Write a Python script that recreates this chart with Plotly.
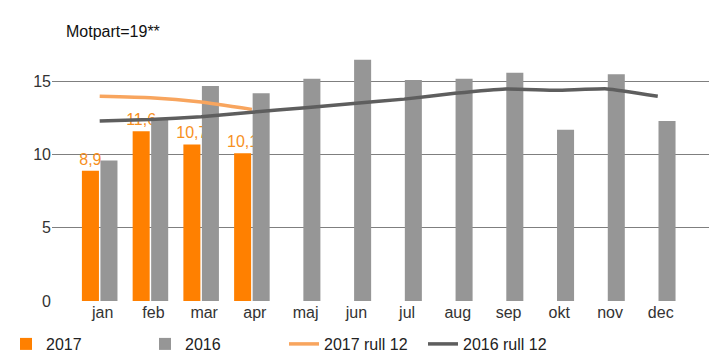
import plotly.graph_objects as go

months = ["jan", "feb", "mar", "apr", "maj", "jun", "jul", "aug", "sep", "okt", "nov", "dec"]
v2017 = [8.9, 11.6, 10.7, 10.1]
v2016 = [9.6, 12.4, 14.7, 14.2, 15.2, 16.5, 15.1, 15.2, 15.6, 11.7, 15.5, 12.3]
r2017 = [14.0, 13.9, 13.6, 13.1]
r2016 = [12.3, 12.4, 12.6, 12.9, 13.2, 13.5, 13.8, 14.2, 14.5, 14.4, 14.5, 14.0]
label2017 = ["8,9", "11,6", "10,7", "10,1"]
yticks = [0, 5, 10, 15]

FONT = "Liberation Sans, Arial, sans-serif"

fig = go.Figure()
fig.add_trace(go.Bar(
    x=months[:len(v2017)], y=v2017, name="2017",
    marker=dict(color="#FF8000", line=dict(width=0)),
    text=label2017, textposition="outside", cliponaxis=False,
    constraintext="none",
    textfont=dict(color="#F7901E", size=16, family=FONT),
))
fig.add_trace(go.Bar(
    x=months, y=v2016, name="2016",
    marker=dict(color="#969696", line=dict(width=0)),
))
fig.add_trace(go.Scatter(
    x=months[:len(r2017)], y=r2017, name="2017 rull 12", mode="lines",
    line=dict(color="#F8A55E", width=3.5, shape="spline", smoothing=0.4),
))
fig.add_trace(go.Scatter(
    x=months, y=r2016, name="2016 rull 12", mode="lines",
    line=dict(color="#5E5E5E", width=3.5, shape="spline", smoothing=0.4),
))

# page body has an 8px margin, so the figure is 8px smaller and offset
fig.update_layout(
    width=712, height=356,
    margin=dict(l=44, r=11, t=37, b=63, autoexpand=False),
    paper_bgcolor="white", plot_bgcolor="white",
    barmode="group", bargap=0.27, bargroupgap=0.08,
    font=dict(family=FONT, size=16, color="#222222"),
    showlegend=True,
    legend=dict(
        orientation="h", xref="paper", x=(6 - 52) / 657, xanchor="left",
        yref="paper", y=(301 - 344) / 256, yanchor="middle",
        font=dict(size=16, color="#222222"),
        entrywidth=94, entrywidthmode="pixels",
        traceorder="normal",
    ),
    annotations=[dict(
        text="Motpart=19**", xref="paper", yref="paper",
        x=(64 - 52) / 657, xanchor="left",
        y=(301 - 31) / 256, yanchor="middle",
        showarrow=False, font=dict(size=16, color="#111111", family=FONT),
    )],
)

fig.update_xaxes(
    type="category", categoryorder="array", categoryarray=months,
    range=[-0.94, 12.01], showgrid=False, zeroline=False, showline=False,
    ticks="", tickfont=dict(size=16, color="#333333"), ticklabelshift=3,
)
fig.update_yaxes(
    range=[0, 17.5], tickvals=yticks, showgrid=True, gridcolor="#7F7F7F",
    gridwidth=1, zeroline=False, showline=False, ticks="",
    tickfont=dict(size=16, color="#333333"),
)

fig.write_html("out.html")
